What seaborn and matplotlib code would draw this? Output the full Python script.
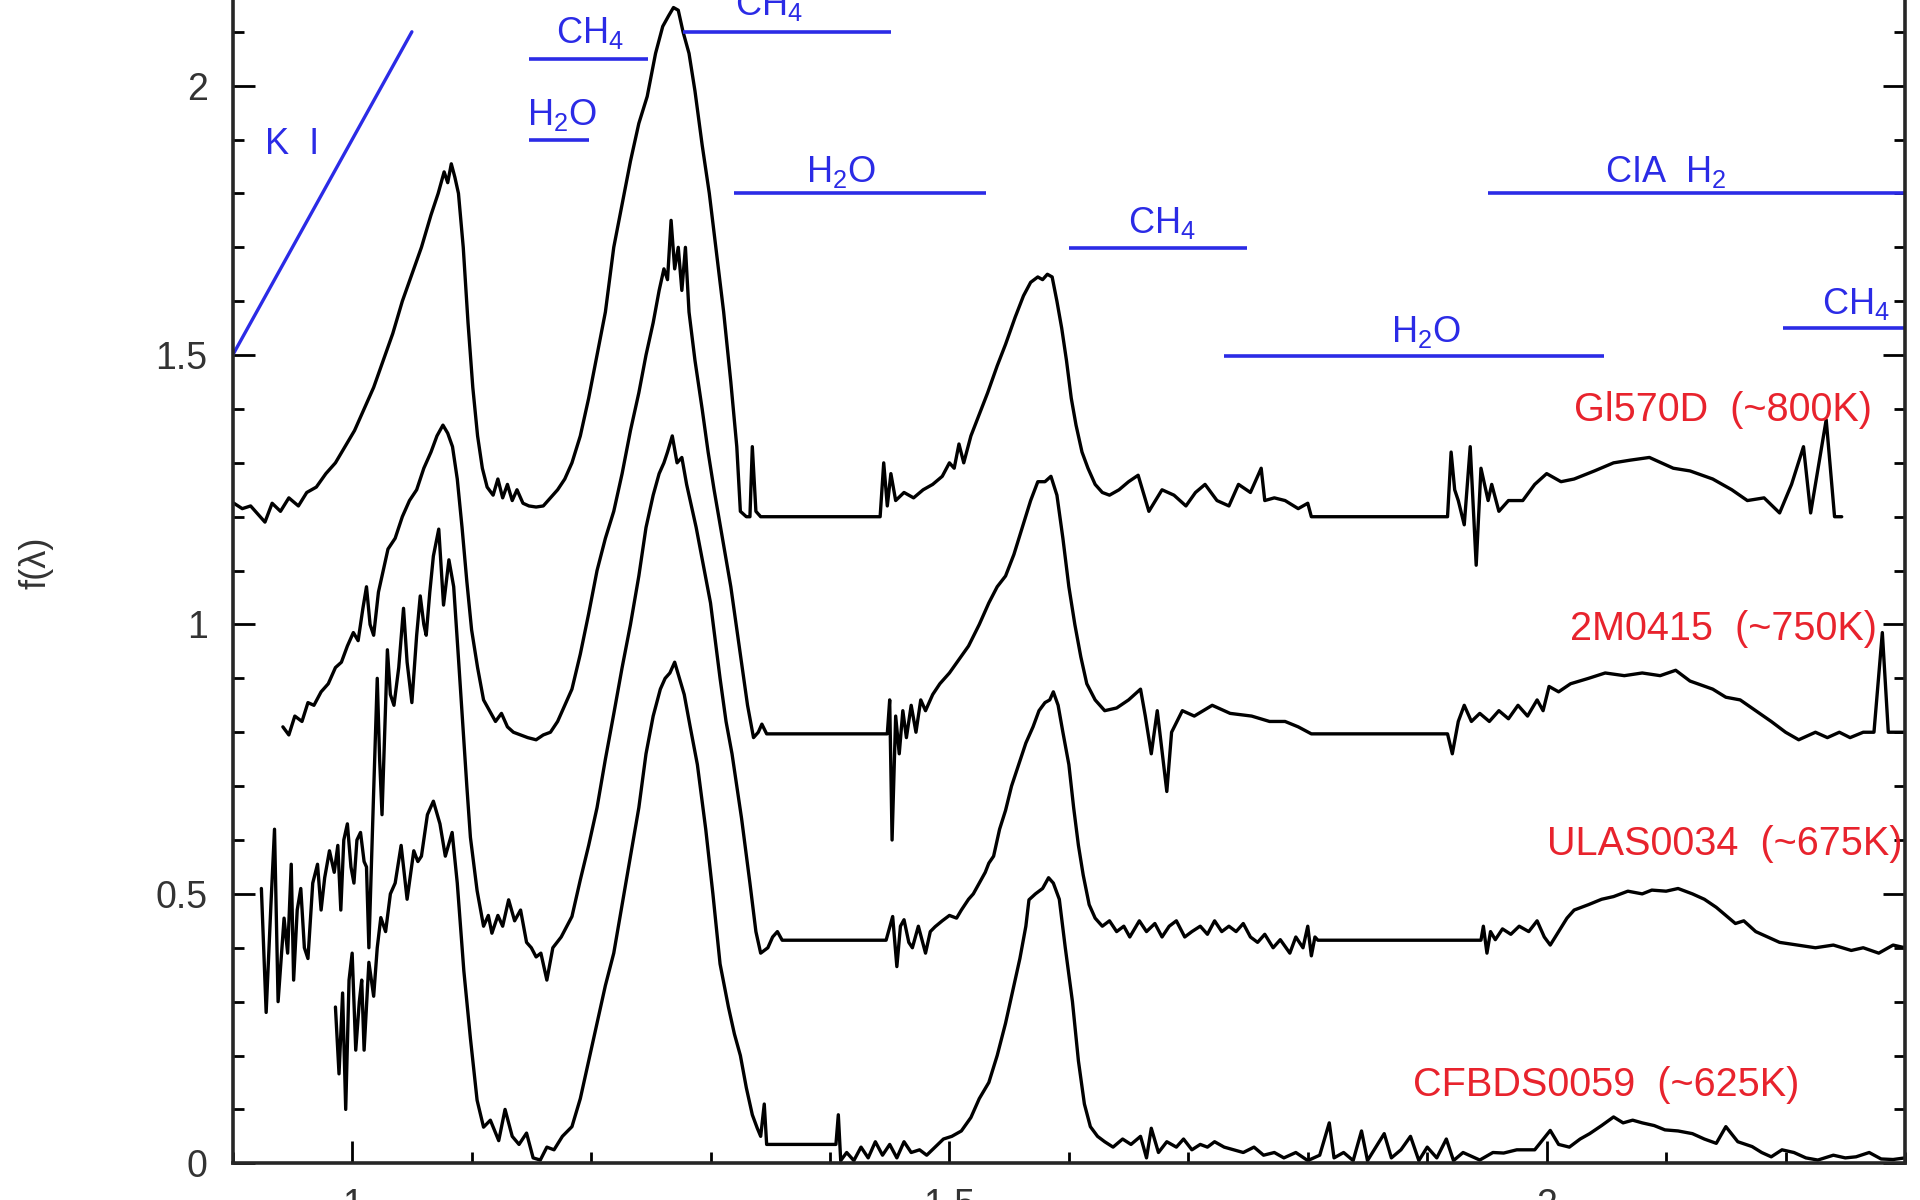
import matplotlib
matplotlib.use("Agg")
import matplotlib.pyplot as plt
import seaborn as sns

# --- spectra (wavelength in micron, offset flux) ---
gl570d_wl = [0.901, 0.908, 0.915, 0.921, 0.927, 0.933, 0.940, 0.947, 0.955, 0.962,
             0.970, 0.978, 0.986, 0.994, 1.002, 1.010, 1.018, 1.026, 1.034, 1.042,
             1.050, 1.058, 1.066, 1.072, 1.077, 1.080, 1.083, 1.086, 1.089, 1.093,
             1.097, 1.101, 1.105, 1.109, 1.113, 1.118, 1.122, 1.126, 1.130, 1.134,
             1.138, 1.143, 1.148, 1.154, 1.160, 1.166, 1.172, 1.178, 1.184, 1.191,
             1.198, 1.205, 1.212, 1.219, 1.226, 1.233, 1.240, 1.247, 1.254, 1.260,
             1.265, 1.269, 1.273, 1.277, 1.282, 1.287, 1.293, 1.299, 1.305, 1.311,
             1.317, 1.322, 1.325, 1.330, 1.333, 1.335, 1.338, 1.342, 1.442, 1.445,
             1.448, 1.451, 1.455, 1.462, 1.470, 1.478, 1.486, 1.494, 1.500, 1.504,
             1.508, 1.512, 1.518, 1.525, 1.532, 1.540, 1.547, 1.555, 1.562, 1.568,
             1.574, 1.578, 1.582, 1.586, 1.590, 1.594, 1.598, 1.602, 1.606, 1.611,
             1.616, 1.622, 1.628, 1.634, 1.642, 1.650, 1.658, 1.667, 1.678, 1.688,
             1.698, 1.706, 1.714, 1.724, 1.734, 1.742, 1.752, 1.761, 1.764, 1.772,
             1.781, 1.792, 1.800, 1.803, 1.917, 1.920, 1.923, 1.926, 1.931, 1.936,
             1.941, 1.945, 1.951, 1.954, 1.960, 1.968, 1.980, 1.990, 2.000, 2.012,
             2.023, 2.040, 2.056, 2.070, 2.086, 2.096, 2.106, 2.120, 2.139, 2.155,
             2.168, 2.182, 2.195, 2.205, 2.215, 2.221, 2.228, 2.234, 2.241, 2.247]
gl570d_flux = [1.225, 1.215, 1.22, 1.205, 1.19, 1.225, 1.21, 1.235, 1.22, 1.245,
               1.255, 1.28, 1.30, 1.33, 1.36, 1.40, 1.44, 1.49, 1.54, 1.60,
               1.65, 1.70, 1.76, 1.80, 1.84, 1.82, 1.855, 1.83, 1.80, 1.70,
               1.56, 1.44, 1.35, 1.29, 1.255, 1.24, 1.27, 1.235, 1.26, 1.23,
               1.25, 1.225, 1.22, 1.218, 1.22, 1.235, 1.25, 1.27, 1.30, 1.35,
               1.42, 1.50, 1.58, 1.70, 1.78, 1.86, 1.93, 1.98, 2.06, 2.11,
               2.13, 2.145, 2.14, 2.10, 2.06, 1.99, 1.89, 1.80, 1.69, 1.58,
               1.45, 1.33, 1.21, 1.20, 1.20, 1.33, 1.21, 1.20, 1.20, 1.30,
               1.22, 1.28, 1.23, 1.245, 1.235, 1.25, 1.26, 1.275, 1.30, 1.29,
               1.335, 1.30, 1.35, 1.39, 1.43, 1.48, 1.52, 1.57, 1.61, 1.635,
               1.645, 1.64, 1.65, 1.645, 1.60, 1.55, 1.49, 1.42, 1.37, 1.32,
               1.29, 1.26, 1.245, 1.24, 1.25, 1.265, 1.277, 1.21, 1.25, 1.24,
               1.22, 1.245, 1.26, 1.23, 1.22, 1.26, 1.245, 1.29, 1.23, 1.235,
               1.23, 1.215, 1.225, 1.20, 1.20, 1.32, 1.25, 1.23, 1.185, 1.33,
               1.11, 1.29, 1.23, 1.26, 1.21, 1.23, 1.23, 1.26, 1.28, 1.265,
               1.27, 1.285, 1.30, 1.305, 1.31, 1.30, 1.29, 1.285, 1.27, 1.25,
               1.23, 1.235, 1.207, 1.26, 1.33, 1.207, 1.30, 1.38, 1.20, 1.20]

m0415_wl = [0.942, 0.947, 0.952, 0.958, 0.963, 0.968, 0.974, 0.980, 0.986, 0.991,
            0.996, 1.001, 1.005, 1.009, 1.012, 1.015, 1.018, 1.022, 1.026, 1.030,
            1.036, 1.042, 1.048, 1.054, 1.060, 1.066, 1.071, 1.076, 1.080, 1.084,
            1.088, 1.092, 1.096, 1.100, 1.105, 1.110, 1.115, 1.120, 1.125, 1.130,
            1.135, 1.141, 1.147, 1.154, 1.160, 1.166, 1.172, 1.178, 1.184, 1.191,
            1.198, 1.205, 1.212, 1.219, 1.226, 1.233, 1.240, 1.246, 1.252, 1.257,
            1.261, 1.264, 1.267, 1.270, 1.273, 1.276, 1.279, 1.282, 1.287, 1.293,
            1.298, 1.303, 1.310, 1.317, 1.324, 1.331, 1.336, 1.340, 1.343, 1.347,
            1.448, 1.450, 1.452, 1.455, 1.458, 1.461, 1.464, 1.468, 1.472, 1.476,
            1.480, 1.486, 1.492, 1.500, 1.508, 1.516, 1.525, 1.533, 1.540, 1.547,
            1.554, 1.561, 1.568, 1.574, 1.580, 1.585, 1.590, 1.595, 1.600, 1.605,
            1.610, 1.615, 1.622, 1.630, 1.640, 1.650, 1.660, 1.664, 1.669, 1.674,
            1.682, 1.686, 1.695, 1.705, 1.720, 1.735, 1.753, 1.768, 1.781, 1.792,
            1.803, 1.917, 1.921, 1.926, 1.931, 1.937, 1.944, 1.952, 1.960, 1.968,
            1.976, 1.984, 1.992, 1.997, 2.002, 2.010, 2.020, 2.035, 2.049, 2.065,
            2.080, 2.095, 2.108, 2.120, 2.139, 2.150, 2.162, 2.175, 2.188, 2.200,
            2.211, 2.225, 2.235, 2.245, 2.254, 2.265, 2.274, 2.281, 2.286, 2.300]
m0415_flux = [0.81, 0.795, 0.83, 0.82, 0.855, 0.85, 0.875, 0.89, 0.92, 0.93,
              0.96, 0.985, 0.97, 1.03, 1.07, 1.00, 0.98, 1.06, 1.10, 1.14,
              1.16, 1.20, 1.23, 1.25, 1.29, 1.32, 1.35, 1.37, 1.355, 1.33,
              1.27, 1.18, 1.08, 0.99, 0.92, 0.86, 0.84, 0.82, 0.835, 0.81,
              0.80, 0.795, 0.79, 0.786, 0.795, 0.80, 0.82, 0.85, 0.88, 0.945,
              1.02, 1.10, 1.16, 1.21, 1.28, 1.36, 1.43, 1.50, 1.56, 1.62,
              1.66, 1.64, 1.75, 1.66, 1.70, 1.62, 1.70, 1.58, 1.49, 1.40,
              1.32, 1.25, 1.16, 1.07, 0.96, 0.85, 0.79, 0.80, 0.815, 0.797,
              0.797, 0.86, 0.60, 0.83, 0.76, 0.84, 0.79, 0.85, 0.80, 0.86,
              0.84, 0.87, 0.89, 0.91, 0.935, 0.96, 1.00, 1.04, 1.07, 1.09,
              1.13, 1.18, 1.23, 1.265, 1.265, 1.275, 1.24, 1.16, 1.07, 1.00,
              0.94, 0.89, 0.86, 0.84, 0.845, 0.86, 0.88, 0.83, 0.76, 0.84,
              0.69, 0.80, 0.84, 0.83, 0.85, 0.835, 0.83, 0.82, 0.82, 0.81,
              0.797, 0.797, 0.76, 0.82, 0.85, 0.82, 0.835, 0.82, 0.84, 0.825,
              0.85, 0.83, 0.86, 0.84, 0.885, 0.875, 0.89, 0.90, 0.91, 0.905,
              0.91, 0.905, 0.915, 0.895, 0.88, 0.865, 0.86, 0.84, 0.82, 0.80,
              0.786, 0.80, 0.79, 0.80, 0.79, 0.80, 0.80, 0.985, 0.80, 0.80]

ulas0034_wl = [0.924, 0.928, 0.932, 0.935, 0.938, 0.943, 0.946, 0.949, 0.951, 0.954,
               0.957, 0.960, 0.963, 0.967, 0.971, 0.974, 0.977, 0.981, 0.985, 0.988,
               0.9905, 0.993, 0.996, 0.999, 1.0015, 1.004, 1.007, 1.010, 1.012, 1.014,
               1.018, 1.021, 1.023, 1.025, 1.0295, 1.032, 1.035, 1.039, 1.043, 1.046,
               1.050, 1.054, 1.057, 1.060, 1.062, 1.065, 1.068, 1.0725, 1.0765, 1.081,
               1.085, 1.089, 1.093, 1.096, 1.099, 1.1046, 1.110, 1.114, 1.117, 1.122,
               1.126, 1.131, 1.136, 1.141, 1.146, 1.150, 1.154, 1.158, 1.163, 1.168,
               1.175, 1.184, 1.191, 1.198, 1.205, 1.212, 1.219, 1.226, 1.233, 1.240,
               1.246, 1.252, 1.257, 1.261, 1.264, 1.268, 1.272, 1.276, 1.280, 1.288,
               1.294, 1.300, 1.308, 1.313, 1.318, 1.326, 1.333, 1.338, 1.342, 1.348,
               1.352, 1.356, 1.360, 1.447, 1.4525, 1.456, 1.459, 1.462, 1.466, 1.469,
               1.474, 1.480, 1.484, 1.488, 1.494, 1.500, 1.506, 1.510, 1.516, 1.520,
               1.525, 1.530, 1.533, 1.537, 1.542, 1.547, 1.552, 1.558, 1.564, 1.570,
               1.575, 1.580, 1.584, 1.587, 1.591, 1.595, 1.600, 1.604, 1.608, 1.612,
               1.617, 1.622, 1.628, 1.634, 1.640, 1.646, 1.651, 1.659, 1.665, 1.672,
               1.678, 1.684, 1.690, 1.697, 1.703, 1.710, 1.716, 1.722, 1.728, 1.734,
               1.740, 1.746, 1.752, 1.758, 1.764, 1.771, 1.777, 1.785, 1.790, 1.796,
               1.800, 1.803, 1.806, 1.8085, 1.945, 1.947, 1.950, 1.953, 1.957, 1.963,
               1.970, 1.977, 1.985, 1.992, 1.998, 2.003, 2.010, 2.017, 2.023, 2.035,
               2.046, 2.056, 2.068, 2.080, 2.088, 2.100, 2.110, 2.122, 2.132, 2.142,
               2.150, 2.158, 2.165, 2.175, 2.185, 2.195, 2.210, 2.225, 2.240, 2.255,
               2.265, 2.278, 2.290, 2.300]
ulas0034_flux = [0.51, 0.28, 0.48, 0.62, 0.30, 0.455, 0.39, 0.555, 0.34, 0.47,
                 0.51, 0.40, 0.38, 0.52, 0.555, 0.47, 0.53, 0.58, 0.54, 0.59,
                 0.47, 0.60, 0.63, 0.55, 0.52, 0.60, 0.614, 0.56, 0.55, 0.40,
                 0.69, 0.90, 0.75, 0.647, 0.953, 0.87, 0.85, 0.92, 1.03, 0.93,
                 0.855, 0.98, 1.053, 1.00, 0.98, 1.06, 1.127, 1.177, 1.036, 1.12,
                 1.07, 0.937, 0.80, 0.70, 0.605, 0.506, 0.44, 0.46, 0.427, 0.46,
                 0.44, 0.489, 0.45, 0.47, 0.41, 0.40, 0.383, 0.39, 0.34, 0.40,
                 0.42, 0.458, 0.526, 0.59, 0.66, 0.75, 0.834, 0.92, 1.00, 1.09,
                 1.18, 1.24, 1.28, 1.30, 1.32, 1.35, 1.30, 1.31, 1.26, 1.18,
                 1.11, 1.04, 0.90, 0.82, 0.76, 0.64, 0.52, 0.43, 0.39, 0.40,
                 0.42, 0.43, 0.414, 0.414, 0.458, 0.365, 0.44, 0.452, 0.41, 0.40,
                 0.44, 0.39, 0.43, 0.439, 0.45, 0.46, 0.455, 0.47, 0.49, 0.50,
                 0.52, 0.54, 0.557, 0.57, 0.62, 0.655, 0.70, 0.74, 0.78, 0.81,
                 0.84, 0.855, 0.86, 0.875, 0.85, 0.80, 0.74, 0.66, 0.59, 0.535,
                 0.48, 0.455, 0.44, 0.45, 0.43, 0.44, 0.42, 0.45, 0.43, 0.445,
                 0.42, 0.44, 0.45, 0.42, 0.43, 0.44, 0.425, 0.45, 0.43, 0.44,
                 0.43, 0.445, 0.42, 0.41, 0.425, 0.40, 0.415, 0.39, 0.42, 0.40,
                 0.44, 0.385, 0.42, 0.414, 0.414, 0.44, 0.39, 0.43, 0.415, 0.435,
                 0.425, 0.44, 0.43, 0.45, 0.42, 0.405, 0.43, 0.455, 0.47, 0.48,
                 0.49, 0.495, 0.505, 0.50, 0.507, 0.505, 0.51, 0.50, 0.49, 0.475,
                 0.46, 0.445, 0.45, 0.43, 0.42, 0.41, 0.405, 0.40, 0.405, 0.395,
                 0.40, 0.39, 0.405, 0.40]

cfbds0059_wl = [0.986, 0.989, 0.992, 0.9946, 0.9974, 1.000, 1.003, 1.006, 1.008, 1.010,
                1.014, 1.018, 1.021, 1.024, 1.028, 1.032, 1.036, 1.041, 1.046, 1.0516,
                1.055, 1.058, 1.063, 1.068, 1.0735, 1.078, 1.0837, 1.088, 1.0935, 1.099,
                1.1046, 1.110, 1.1157, 1.1227, 1.128, 1.134, 1.1397, 1.146, 1.1515, 1.1575,
                1.163, 1.169, 1.176, 1.184, 1.191, 1.198, 1.205, 1.212, 1.219, 1.226,
                1.233, 1.240, 1.246, 1.252, 1.258, 1.262, 1.266, 1.270, 1.274, 1.278,
                1.283, 1.289, 1.296, 1.302, 1.308, 1.315, 1.320, 1.325, 1.330, 1.335,
                1.339, 1.342, 1.345, 1.347, 1.405, 1.407, 1.409, 1.414, 1.420, 1.426,
                1.432, 1.438, 1.444, 1.450, 1.456, 1.462, 1.468, 1.475, 1.481, 1.488,
                1.495, 1.502, 1.510, 1.518, 1.525, 1.533, 1.540, 1.547, 1.553, 1.559,
                1.564, 1.5666, 1.572, 1.578, 1.583, 1.587, 1.592, 1.597, 1.603, 1.608,
                1.613, 1.618, 1.624, 1.630, 1.637, 1.645, 1.652, 1.660, 1.665, 1.669,
                1.675, 1.682, 1.690, 1.696, 1.703, 1.710, 1.716, 1.722, 1.730, 1.738,
                1.746, 1.755, 1.763, 1.772, 1.780, 1.790, 1.800, 1.810, 1.818, 1.822,
                1.830, 1.838, 1.845, 1.850, 1.857, 1.864, 1.870, 1.878, 1.886, 1.893,
                1.900, 1.908, 1.916, 1.922, 1.930, 1.944, 1.955, 1.964, 1.975, 1.990,
                2.003, 2.010, 2.019, 2.028, 2.036, 2.046, 2.056, 2.064, 2.072, 2.080,
                2.090, 2.099, 2.110, 2.122, 2.132, 2.142, 2.150, 2.160, 2.172, 2.180,
                2.188, 2.197, 2.207, 2.217, 2.227, 2.240, 2.250, 2.259, 2.270, 2.280,
                2.290, 2.300]
cfbds0059_flux = [0.29, 0.166, 0.316, 0.10, 0.34, 0.39, 0.21, 0.30, 0.34, 0.21,
                  0.373, 0.31, 0.40, 0.456, 0.43, 0.50, 0.52, 0.59, 0.49, 0.58,
                  0.56, 0.57, 0.647, 0.672, 0.63, 0.57, 0.614, 0.52, 0.357, 0.232,
                  0.117, 0.067, 0.08, 0.042, 0.10, 0.05, 0.035, 0.056, 0.01, 0.006,
                  0.03, 0.025, 0.05, 0.068, 0.12, 0.19, 0.26, 0.33, 0.39, 0.48,
                  0.57, 0.66, 0.76, 0.83, 0.88, 0.90, 0.91, 0.93, 0.90, 0.87,
                  0.81, 0.74, 0.62, 0.50, 0.37, 0.29, 0.24, 0.20, 0.14, 0.09,
                  0.066, 0.05, 0.11, 0.035, 0.035, 0.09, 0.005, 0.02, 0.005, 0.03,
                  0.01, 0.04, 0.015, 0.035, 0.01, 0.04, 0.02, 0.025, 0.015, 0.03,
                  0.045, 0.05, 0.06, 0.085, 0.12, 0.15, 0.20, 0.26, 0.32, 0.38,
                  0.44, 0.489, 0.50, 0.51, 0.53, 0.52, 0.49, 0.40, 0.30, 0.19,
                  0.11, 0.068, 0.05, 0.04, 0.03, 0.045, 0.035, 0.05, 0.01, 0.065,
                  0.02, 0.04, 0.03, 0.045, 0.025, 0.035, 0.03, 0.04, 0.03, 0.025,
                  0.02, 0.03, 0.015, 0.02, 0.01, 0.02, 0.005, 0.015, 0.075, 0.01,
                  0.02, 0.005, 0.06, 0.005, 0.03, 0.055, 0.01, 0.025, 0.05, 0.005,
                  0.03, 0.01, 0.045, 0.005, 0.02, 0.006, 0.02, 0.019, 0.025, 0.025,
                  0.061, 0.035, 0.03, 0.045, 0.055, 0.07, 0.086, 0.075, 0.08, 0.075,
                  0.07, 0.062, 0.06, 0.055, 0.045, 0.037, 0.068, 0.04, 0.031, 0.02,
                  0.012, 0.025, 0.02, 0.01, 0.006, 0.015, 0.01, 0.012, 0.02, 0.008,
                  0.007, 0.01]

# object labels
obj_labels = ['Gl570D  (~800K)', '2M0415  (~750K)', 'ULAS0034  (~675K)', 'CFBDS0059  (~625K)']
obj_label_x = [2.148, 2.148, 2.149, 2.050]
obj_label_y = [1.378, 0.972, 0.573, 0.124]

# absorption bands
ki_x = [0.90, 1.05]
ki_y = [1.50, 2.10]
band_labels = ['CH$_4$', 'H$_2$O', 'CH$_4$', 'H$_2$O', 'CH$_4$', 'H$_2$O', 'CIA  H$_2$', 'CH$_4$']
band_start = [1.148, 1.148, 1.277, 1.320, 1.600, 1.730, 1.951, 2.198]
band_end = [1.248, 1.198, 1.451, 1.531, 1.749, 2.048, 2.300, 2.300]
band_level = [2.049, 1.900, 2.100, 1.800, 1.698, 1.498, 1.800, 1.550]
band_text_x = [1.199, 1.176, 1.349, 1.409, 1.678, 1.899, 2.100, 2.259]
band_text_y = [2.079, 1.927, 2.131, 1.822, 1.726, 1.525, 1.822, 1.577]

sns.set_style("ticks")
plt.rcParams['font.family'] = ['Liberation Sans', 'DejaVu Sans']
plt.rcParams['mathtext.fontset'] = 'custom'
plt.rcParams['mathtext.rm'] = 'Liberation Sans'
plt.rcParams['mathtext.it'] = 'Liberation Sans:italic'
plt.rcParams['mathtext.bf'] = 'Liberation Sans:bold'
plt.rcParams['mathtext.default'] = 'regular'

blue = '#2b2be6'
red = '#e8232d'

fig = plt.figure(figsize=(19.2, 12), dpi=100)
ax = fig.add_axes([0.1212, 0.0306, 0.871, 0.9878])

spectra = [(gl570d_wl, gl570d_flux), (m0415_wl, m0415_flux),
           (ulas0034_wl, ulas0034_flux), (cfbds0059_wl, cfbds0059_flux)]
for wl, fl in spectra:
    sns.lineplot(x=wl, y=fl, ax=ax, color='black', linewidth=2.4,
                 sort=False, estimator=None)

ax.plot(ki_x, ki_y, color=blue, linewidth=2.4)
ax.text(0.950, 1.873, 'K  I', color=blue, fontsize=26, ha='center', va='baseline')
ax.hlines(band_level, band_start, band_end, colors=blue, linewidth=2.6)
for lab, tx, ty in zip(band_labels, band_text_x, band_text_y):
    ax.text(tx, ty, lab, color=blue, fontsize=26, ha='center', va='baseline')

for lab, tx, ty in zip(obj_labels, obj_label_x, obj_label_y):
    ax.text(tx, ty, lab, color=red, fontsize=28.5, ha='center', va='baseline')

ax.set_xlim(0.9, 2.3)
ax.set_ylim(0, 2.2)
ax.set_xticks([1.0, 1.5, 2.0])
ax.set_xticklabels(['1', '1.5', '2'])
ax.set_xticks([0.9 + 0.1 * i for i in range(15)], minor=True)
ax.set_yticks([0, 0.5, 1.0, 1.5, 2.0])
ax.set_yticklabels(['0', '0.5', '1', '1.5', '2'])
ax.set_yticks([0.1 * i for i in range(23)], minor=True)
ax.tick_params(which='both', direction='in', left=True, right=True, top=False, bottom=True,
               width=2.0, color='black')
ax.tick_params(which='major', length=16, labelsize=27, pad=18, labelcolor='#333333')
ax.tick_params(which='minor', length=8)
for side in ['left', 'right', 'bottom', 'top']:
    ax.spines[side].set_linewidth(2.6)
ax.set_xlabel('')
ax.set_ylabel('')

fig.text(0.019, 0.531, 'f(λ)', rotation=90, ha='center', va='center', fontsize=26, color='#333333')

fig.savefig('out.png', dpi=100)
